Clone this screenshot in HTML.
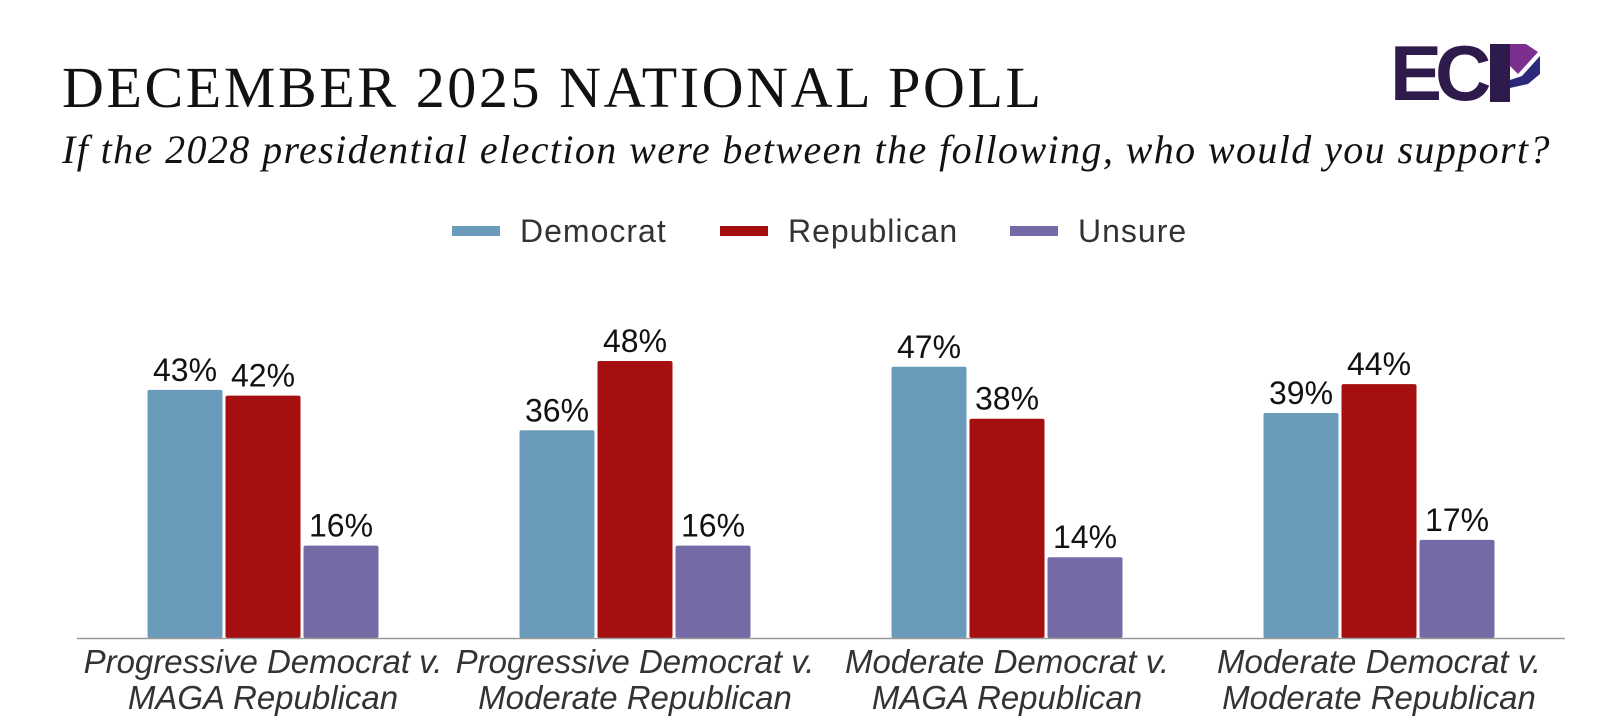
<!DOCTYPE html>
<html><head><meta charset="utf-8"><style>
body{margin:0;background:#fff;}
#c{position:relative;width:1600px;height:726px;overflow:hidden;background:#fff;}
.t{position:absolute;white-space:nowrap;}
</style></head><body>
<div id="c">
<div class="t" style="left:62px;top:54px;font:58px 'Liberation Serif',serif;color:#111;letter-spacing:2.6px;">DECEMBER 2025 NATIONAL POLL</div>
<div class="t" style="left:62px;top:126px;font:italic 40px 'Liberation Serif',serif;color:#111;letter-spacing:1.4px;">If the 2028 presidential election were between the following, who would you support?</div>
<svg style="position:absolute;left:1390px;top:36px" width="150" height="70" viewBox="0 0 150 70">
<text x="0" y="64" font-family="Liberation Sans,sans-serif" font-weight="bold" font-size="78" fill="#2e1b4b" letter-spacing="-7">EC</text>
<rect x="100" y="8" width="20" height="58" fill="#2e1b4b"/>
<polygon points="120,8 136,8 148,16 128,38 120,30" fill="#7b2f8f"/>
<polygon points="132,40 150,20 150,38 138,48 120,52 120,44" fill="#2b2a7a"/>
</svg>
<svg id="plot" width="1600" height="726" style="position:absolute;left:0;top:0"></svg>
</div>
<script>
const categories=[["Progressive Democrat v.","MAGA Republican"],["Progressive Democrat v.","Moderate Republican"],["Moderate Democrat v.","MAGA Republican"],["Moderate Democrat v.","Moderate Republican"]];
const seriesNames=["Democrat","Republican","Unsure"];
const democrat=[43,36,47,39];
const republican=[42,48,38,44];
const unsure=[16,16,14,17];
const colors=["#6a9bbb","#a50f0f","#756aa5"];
const NS="http://www.w3.org/2000/svg";
const svg=document.getElementById('plot');
const x0=77,x1=1565,base=638,scale=5.77,barW=75,gap=3;
const groupW=(x1-x0)/categories.length;
function xc(i){return x0+groupW*(i+0.5);}
function y(v){return base-v*scale;}
function mk(tag,attrs){const e=document.createElementNS(NS,tag);for(const k in attrs)e.setAttribute(k,attrs[k]);svg.appendChild(e);return e;}
const series=[democrat,republican,unsure];
series.forEach((vals,s)=>{
  vals.forEach((v,i)=>{
    const bx=xc(i)+(s-1)*(barW+gap)-barW/2;
    const r=mk('rect',{x:bx,y:y(v),width:barW,height:v*scale,fill:colors[s],rx:2});
    
    
    const t=mk('text',{x:bx+barW/2,y:y(v)-9,'text-anchor':'middle','font-family':'Liberation Sans,sans-serif','font-size':'32',fill:'#111'});
    t.textContent=v+'%';
    
    
  });
});
const ax=mk('line',{x1:x0,x2:x1,y1:base+0.5,y2:base+0.5,stroke:'#999','stroke-width':1.5});


categories.forEach((c,i)=>{
  c.forEach((ln,j)=>{
    const t=mk('text',{x:xc(i),y:base+35+j*36,'text-anchor':'middle','font-family':'Liberation Sans,sans-serif','font-style':'italic','font-size':'33',fill:'#333'});
    t.textContent=ln;
    
    
  });
});
const legX=[452,720,1010];
seriesNames.forEach((n,s)=>{
  const r=mk('rect',{x:legX[s],y:226,width:48,height:10,fill:colors[s]});
  
  
  const t=mk('text',{x:legX[s]+68,y:242,'font-family':'Liberation Sans,sans-serif','font-size':'32','letter-spacing':'1',fill:'#333'});
  t.textContent=n;
  
  
});
</script>
</body></html>
